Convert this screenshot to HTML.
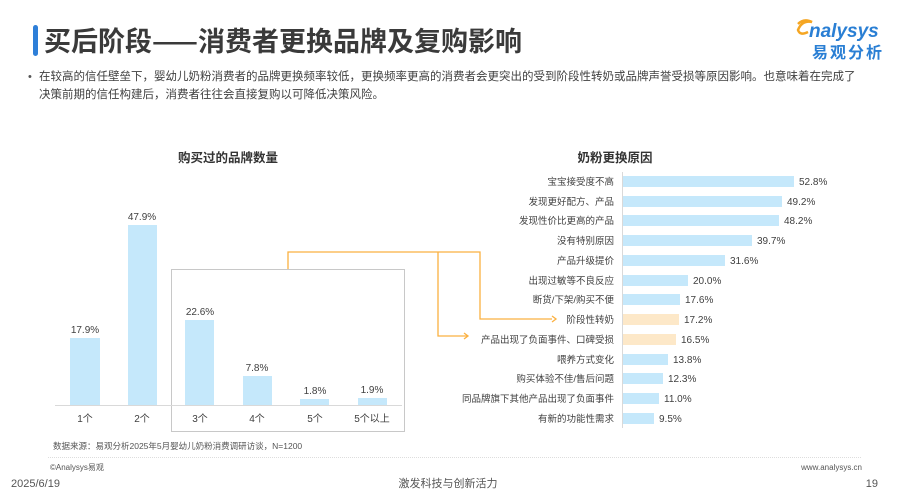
<!DOCTYPE html>
<html><head><meta charset="utf-8"><style>
html,body{margin:0;padding:0;background:#fff;}
svg{display:block;font-family:"Liberation Sans","Noto Sans CJK SC",sans-serif;}
</style></head><body>
<svg width="897" height="504" viewBox="0 0 897 504" xmlns="http://www.w3.org/2000/svg">
<rect x="33" y="25" width="5" height="31" rx="2.5" fill="#2e7fd8"/>
<text x="44" y="51" font-size="27" font-weight="bold" fill="#3a3a3a" font-family="'Noto Sans CJK SC',sans-serif">买后阶段——消费者更换品牌及复购影响</text>
<path d="M798 24 q6 -6 14 -2 q-10 -2 -14 8 q2 6 10 2" fill="none" stroke="#f5a623" stroke-width="2.5"/>
<text x="809" y="37" font-size="19" font-style="italic" font-weight="bold" fill="#2a7fd4">nalysys</text>
<text x="812" y="58" font-size="16" font-weight="bold" fill="#2a7fd4" letter-spacing="2" font-family="'Noto Sans CJK SC',sans-serif">易观分析</text>
<text x="28" y="80" font-size="11" fill="#555">•</text>
<text x="39" y="80" font-size="11.5" fill="#404040" font-family="'Noto Sans CJK SC',sans-serif">在较高的信任壁垒下，婴幼儿奶粉消费者的品牌更换频率较低，更换频率更高的消费者会更突出的受到阶段性转奶或品牌声誉受损等原因影响。也意味着在完成了</text>
<text x="39" y="98" font-size="11.5" fill="#404040" font-family="'Noto Sans CJK SC',sans-serif">决策前期的信任构建后，消费者往往会直接复购以可降低决策风险。</text>

<text x="228" y="162" font-size="12.5" font-weight="bold" text-anchor="middle" fill="#333" font-family="'Noto Sans CJK SC',sans-serif">购买过的品牌数量</text>
<rect x="171.5" y="269.5" width="233" height="162" fill="none" stroke="#c8c8c8" stroke-width="1"/>
<line x1="55" y1="405.5" x2="402" y2="405.5" stroke="#d9d9d9"/>
<g fill="#c5e8fb">
<rect x="70" y="338" width="30" height="67"/>
<rect x="128" y="225" width="29" height="180"/>
<rect x="185" y="320" width="29" height="85"/>
<rect x="243" y="376" width="29" height="29"/>
<rect x="300" y="399" width="29" height="6"/>
<rect x="358" y="398" width="29" height="7"/>
</g>
<g font-size="10" fill="#404040" text-anchor="middle">
<text x="85" y="333">17.9%</text>
<text x="142" y="220">47.9%</text>
<text x="200" y="315">22.6%</text>
<text x="257" y="371">7.8%</text>
<text x="315" y="394">1.8%</text>
<text x="372" y="393">1.9%</text>
</g>
<g font-size="10" fill="#404040" text-anchor="middle" font-family="'Liberation Sans','Noto Sans CJK SC',sans-serif">
<text x="85" y="422">1个</text><text x="142" y="422">2个</text><text x="200" y="422">3个</text>
<text x="257" y="422">4个</text><text x="315" y="422">5个</text><text x="372" y="422">5个以上</text>
</g>
<g fill="none" stroke="#fbb040" stroke-width="1.3">
<polyline points="288,269 288,252 480,252 480,319 552,319"/>
<polyline points="552,316 556,319 552,322"/>
<polyline points="438,252 438,336 468,336"/>
<polyline points="464,333 468,336 464,339"/>
</g>

<text x="615" y="162" font-size="12.5" font-weight="bold" text-anchor="middle" fill="#333" font-family="'Noto Sans CJK SC',sans-serif">奶粉更换原因</text>
<line x1="622.5" y1="172" x2="622.5" y2="428" stroke="#d9d9d9"/>
<g font-size="9.5" fill="#404040" font-family="'Liberation Sans','Noto Sans CJK SC',sans-serif">
<g text-anchor="end">
<text x="614" y="185">宝宝接受度不高</text>
<text x="614" y="205">发现更好配方、产品</text>
<text x="614" y="224">发现性价比更高的产品</text>
<text x="614" y="244">没有特别原因</text>
<text x="614" y="264">产品升级提价</text>
<text x="614" y="284">出现过敏等不良反应</text>
<text x="614" y="303">断货/下架/购买不便</text>
<text x="614" y="323">阶段性转奶</text>
<text x="614" y="343">产品出现了负面事件、口碑受损</text>
<text x="614" y="363">喂养方式变化</text>
<text x="614" y="382">购买体验不佳/售后问题</text>
<text x="614" y="402">同品牌旗下其他产品出现了负面事件</text>
<text x="614" y="422">有新的功能性需求</text>
</g>
</g>
<g fill="#c5e8fb">
<rect x="623" y="176" width="171" height="11"/>
<rect x="623" y="196" width="159" height="11"/>
<rect x="623" y="215" width="156" height="11"/>
<rect x="623" y="235" width="129" height="11"/>
<rect x="623" y="255" width="102" height="11"/>
<rect x="623" y="275" width="65" height="11"/>
<rect x="623" y="294" width="57" height="11"/>
<rect x="623" y="314" width="56" height="11" fill="#fde8c8"/>
<rect x="623" y="334" width="53" height="11" fill="#fde8c8"/>
<rect x="623" y="354" width="45" height="11"/>
<rect x="623" y="373" width="40" height="11"/>
<rect x="623" y="393" width="36" height="11"/>
<rect x="623" y="413" width="31" height="11"/>
</g>
<g font-size="10" fill="#404040">
<text x="799" y="185">52.8%</text>
<text x="787" y="205">49.2%</text>
<text x="784" y="224">48.2%</text>
<text x="757" y="244">39.7%</text>
<text x="730" y="264">31.6%</text>
<text x="693" y="284">20.0%</text>
<text x="685" y="303">17.6%</text>
<text x="684" y="323">17.2%</text>
<text x="681" y="343">16.5%</text>
<text x="673" y="363">13.8%</text>
<text x="668" y="382">12.3%</text>
<text x="664" y="402">11.0%</text>
<text x="659" y="422">9.5%</text>
</g>

<text x="53" y="449" font-size="8.5" fill="#555" font-family="'Liberation Sans','Noto Sans CJK SC',sans-serif">数据来源：易观分析2025年5月婴幼儿奶粉消费调研访谈，N=1200</text>
<line x1="48" y1="457.5" x2="862" y2="457.5" stroke="#ddd" stroke-dasharray="1,1"/>
<text x="50" y="470" font-size="8" fill="#555" font-family="'Liberation Sans','Noto Sans CJK SC',sans-serif">©Analysys易观</text>
<text x="862" y="470" font-size="8" fill="#555" text-anchor="end">www.analysys.cn</text>
<text x="11" y="487" font-size="11" fill="#555">2025/6/19</text>
<text x="448" y="487" font-size="11" fill="#555" text-anchor="middle" font-family="'Liberation Sans','Noto Sans CJK SC',sans-serif">激发科技与创新活力</text>
<text x="878" y="487" font-size="11" fill="#555" text-anchor="end">19</text>
</svg>
</body></html>
